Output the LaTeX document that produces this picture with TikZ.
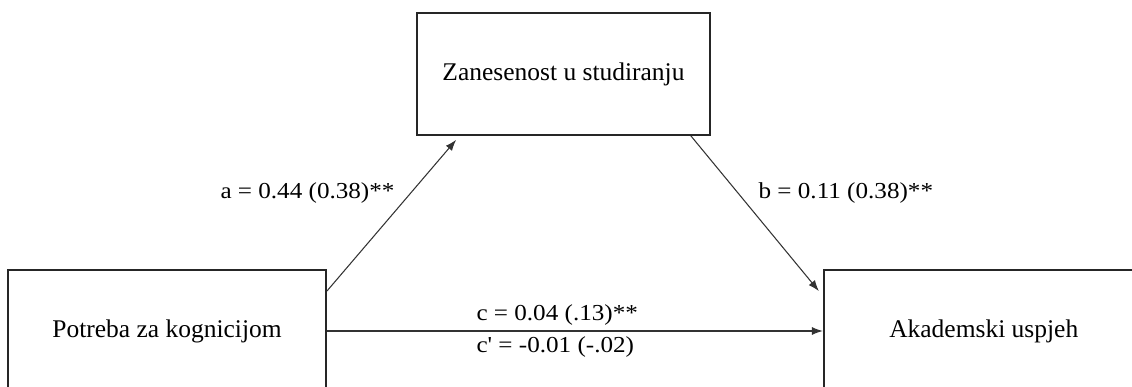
\documentclass[tikz,border=0pt]{standalone}
\usepackage{fontspec}
\setmainfont{Liberation Serif}
\newfontfamily\coeffont[FakeStretch=1.1]{Liberation Serif}
\usetikzlibrary{arrows.meta, positioning, calc}

\begin{document}
\begin{tikzpicture}[
    varbox/.style={
        rectangle,
        draw=black!85, line width=1pt,
        minimum width=5.86cm, minimum height=2.44cm,
        font=\fontsize{14.5}{17}\selectfont
    },
    coef/.style={
        font=\coeffont\fontsize{13}{15}\selectfont
    },
    arrow/.style={
        -{Latex[length=2.2mm, width=1.6mm]}, draw=black!80, line width=0.6pt
    }
]

\useasboundingbox (0,0) rectangle (22.64,7.74);

% Variables
\node[varbox, minimum width=6.36cm] (pot) at (3.34,1.12) {Potreba za kognicijom};
\node[varbox, minimum width=6.4cm, right=9.92cm of pot] (aka) {Akademski uspjeh};
\node[varbox] (zan) at (11.27,6.26) {Zanesenost u studiranju};

% Paths
\draw[arrow] ($(pot.north east)+(0,-0.44)$) -- node[coef, pos=0.65, left=0.2cm] {a = 0.44 (0.38)**} ($(zan.south west)+(0.8,-0.08)$);
\draw[arrow] ($(zan.south east)+(-0.4,0)$) -- node[coef, pos=0.37, right=0.28cm] {b = 0.11 (0.38)**} ($(aka.north west)+(-0.08,-0.44)$);
\draw[arrow] (pot.east) -- (aka.west)
    node[coef, pos=0.29, anchor=south west, inner sep=3pt] {c = 0.04 (.13)**}
    node[coef, pos=0.29, anchor=north west, inner sep=3pt] {c' = -0.01 (-.02)};

\end{tikzpicture}
\end{document}
